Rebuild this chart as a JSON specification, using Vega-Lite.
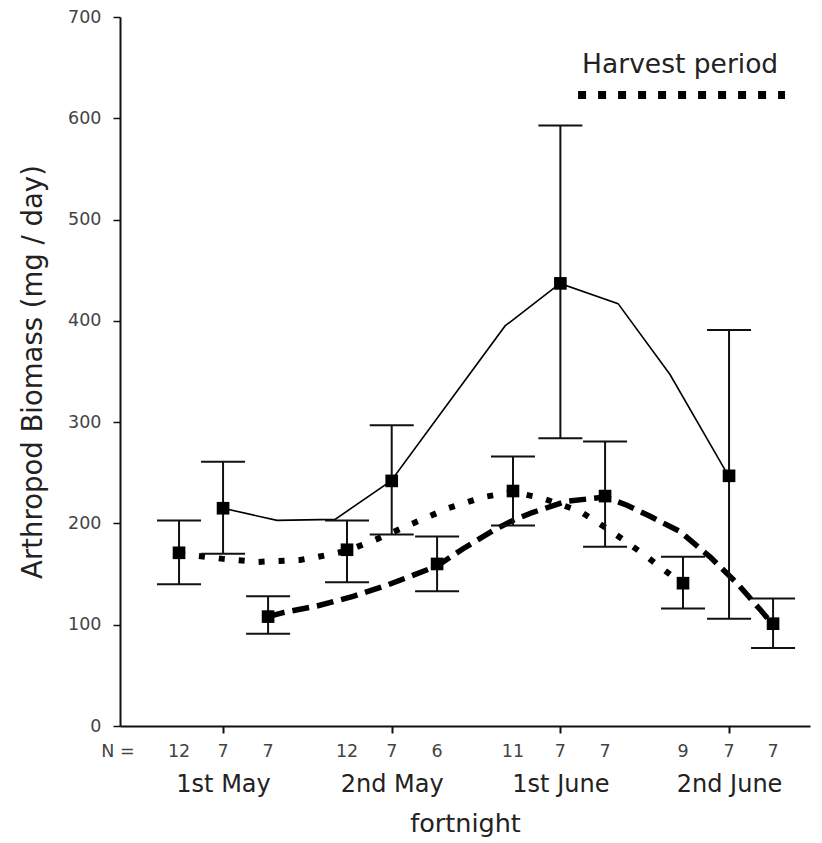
{
  "$schema": "https://vega.github.io/schema/vega-lite/v6.json",
  "width": 690,
  "height": 709,
  "autosize": {"type": "none"},
  "padding": {"left": 120, "top": 17, "right": 12, "bottom": 117},
  "background": "white",
  "config": {
    "view": {"stroke": null},
    "font": "DejaVu Sans",
    "axisY": {
      "grid": false, "tickCount": 7, "domainColor": "#111", "domainWidth": 2,
      "tickColor": "#111", "tickWidth": 1.5, "tickSize": 7,
      "labelFontSize": 17.5, "labelColor": "#444", "labelPadding": 12,
      "titleFontSize": 27.5, "titleFontWeight": "normal", "titleColor": "#222", "titlePadding": 20
    }
  },
  "datasets": {
    "points": [
      {"series": "dotted", "x": 0.739, "y": 171, "lo": 140, "hi": 203},
      {"series": "solid", "x": 1.0, "y": 215, "lo": 170, "hi": 261},
      {"series": "dashed", "x": 1.267, "y": 108, "lo": 91, "hi": 128},
      {"series": "dotted", "x": 1.735, "y": 174, "lo": 142, "hi": 203},
      {"series": "solid", "x": 2.0, "y": 242, "lo": 189, "hi": 297},
      {"series": "dashed", "x": 2.269, "y": 160, "lo": 133, "hi": 187},
      {"series": "dotted", "x": 2.719, "y": 232, "lo": 198, "hi": 266},
      {"series": "solid", "x": 3.0, "y": 437, "lo": 284, "hi": 593},
      {"series": "dashed", "x": 3.265, "y": 227, "lo": 177, "hi": 281},
      {"series": "dotted", "x": 3.727, "y": 141, "lo": 116, "hi": 167},
      {"series": "solid", "x": 4.0, "y": 247, "lo": 106, "hi": 391},
      {"series": "dashed", "x": 4.261, "y": 101, "lo": 77, "hi": 126}
    ],
    "curves": [
      {"series": "solid", "x": 1.0, "y": 215},
      {"series": "solid", "x": 1.32, "y": 203},
      {"series": "solid", "x": 1.664, "y": 204},
      {"series": "solid", "x": 1.996, "y": 242},
      {"series": "solid", "x": 2.672, "y": 395},
      {"series": "solid", "x": 2.998, "y": 437},
      {"series": "solid", "x": 3.342, "y": 417},
      {"series": "solid", "x": 3.65, "y": 347},
      {"series": "solid", "x": 4.0, "y": 246},
      {"series": "dotted", "x": 0.739, "y": 170},
      {"series": "dotted", "x": 1.0, "y": 165},
      {"series": "dotted", "x": 1.207, "y": 162},
      {"series": "dotted", "x": 1.457, "y": 164},
      {"series": "dotted", "x": 1.563, "y": 167},
      {"series": "dotted", "x": 1.735, "y": 173},
      {"series": "dotted", "x": 1.919, "y": 185},
      {"series": "dotted", "x": 2.097, "y": 198},
      {"series": "dotted", "x": 2.334, "y": 215},
      {"series": "dotted", "x": 2.541, "y": 226},
      {"series": "dotted", "x": 2.719, "y": 231},
      {"series": "dotted", "x": 2.891, "y": 225},
      {"series": "dotted", "x": 3.117, "y": 212},
      {"series": "dotted", "x": 3.312, "y": 191},
      {"series": "dotted", "x": 3.49, "y": 170},
      {"series": "dotted", "x": 3.591, "y": 157},
      {"series": "dotted", "x": 3.727, "y": 140},
      {"series": "dashed", "x": 1.267, "y": 108},
      {"series": "dashed", "x": 1.356, "y": 112},
      {"series": "dashed", "x": 1.557, "y": 118.5},
      {"series": "dashed", "x": 1.771, "y": 128},
      {"series": "dashed", "x": 1.972, "y": 139},
      {"series": "dashed", "x": 2.269, "y": 158},
      {"series": "dashed", "x": 2.423, "y": 175},
      {"series": "dashed", "x": 2.601, "y": 193},
      {"series": "dashed", "x": 2.719, "y": 203},
      {"series": "dashed", "x": 2.838, "y": 211},
      {"series": "dashed", "x": 3.04, "y": 222},
      {"series": "dashed", "x": 3.265, "y": 226},
      {"series": "dashed", "x": 3.395, "y": 218},
      {"series": "dashed", "x": 3.532, "y": 207},
      {"series": "dashed", "x": 3.709, "y": 192},
      {"series": "dashed", "x": 3.887, "y": 167},
      {"series": "dashed", "x": 4.047, "y": 141},
      {"series": "dashed", "x": 4.184, "y": 115},
      {"series": "dashed", "x": 4.261, "y": 100}
    ],
    "nlabels": [
      {"x": 0.377, "label": "N ="},
      {"x": 0.739, "label": "12"},
      {"x": 1.0, "label": "7"},
      {"x": 1.267, "label": "7"},
      {"x": 1.735, "label": "12"},
      {"x": 2.0, "label": "7"},
      {"x": 2.269, "label": "6"},
      {"x": 2.719, "label": "11"},
      {"x": 3.0, "label": "7"},
      {"x": 3.265, "label": "7"},
      {"x": 3.727, "label": "9"},
      {"x": 4.0, "label": "7"},
      {"x": 4.261, "label": "7"}
    ],
    "harvest": [
      {"x": 3.105, "y": 623},
      {"x": 4.332, "y": 623}
    ],
    "harvestLabel": [
      {"x": 3.71, "y": 653, "label": "Harvest period"}
    ]
  },
  "encoding": {
    "x": {
      "field": "x", "type": "quantitative",
      "scale": {"domain": [0.389, 4.48], "nice": false, "zero": false},
      "axis": {
        "values": [1, 2, 3, 4],
        "labelExpr": "['', '1st May', '2nd May', '1st June', '2nd June'][datum.value]",
        "title": "fortnight", "grid": false,
        "domainColor": "#111", "domainWidth": 2, "tickColor": "#111", "tickWidth": 2, "tickSize": 7,
        "labelFontSize": 24, "labelColor": "#222", "labelPadding": 39,
        "titleFontSize": 25.5, "titleFontWeight": "normal", "titleColor": "#222", "titlePadding": 15
      }
    }
  },
  "layer": [
    {
      "data": {"values": [{"top": 700}]},
      "mark": {"type": "rule", "color": "#111", "strokeWidth": 2},
      "encoding": {
        "x": {"datum": 0.389},
        "x2": {"datum": 4.48},
        "y": {"field": "top", "type": "quantitative", "title": "Arthropod Biomass (mg / day)", "scale": {"domain": [0, 700]}}
      }
    },
    {
      "data": {"name": "curves"},
      "transform": [{"filter": "datum.series === 'solid'"}],
      "mark": {"type": "line", "color": "#000", "strokeWidth": 1.6},
      "encoding": {
        "y": {"field": "y", "type": "quantitative", "title": "Arthropod Biomass (mg / day)", "scale": {"domain": [0, 700]}}
      }
    },
    {
      "data": {"name": "curves"},
      "transform": [{"filter": "datum.series === 'dotted'"}],
      "mark": {"type": "line", "color": "#000", "strokeWidth": 6, "strokeDash": [6, 14], "strokeCap": "butt"},
      "encoding": {
        "y": {"field": "y", "type": "quantitative", "title": "Arthropod Biomass (mg / day)", "scale": {"domain": [0, 700]}}
      }
    },
    {
      "data": {"name": "curves"},
      "transform": [{"filter": "datum.series === 'dashed'"}],
      "mark": {"type": "line", "color": "#000", "strokeWidth": 5.5, "strokeDash": [17, 8], "strokeCap": "butt"},
      "encoding": {
        "y": {"field": "y", "type": "quantitative", "title": "Arthropod Biomass (mg / day)", "scale": {"domain": [0, 700]}}
      }
    },
    {
      "data": {"name": "points"},
      "mark": {"type": "rule", "color": "#111", "strokeWidth": 2},
      "encoding": {
        "y": {"field": "lo", "type": "quantitative", "title": "Arthropod Biomass (mg / day)", "scale": {"domain": [0, 700]}},
        "y2": {"field": "hi"}
      }
    },
    {
      "data": {"name": "points"},
      "mark": {"type": "tick", "orient": "horizontal", "color": "#111", "opacity": 1, "size": 44, "thickness": 2},
      "encoding": {
        "y": {"field": "hi", "type": "quantitative", "title": "Arthropod Biomass (mg / day)", "scale": {"domain": [0, 700]}}
      }
    },
    {
      "data": {"name": "points"},
      "mark": {"type": "tick", "orient": "horizontal", "color": "#111", "opacity": 1, "size": 44, "thickness": 2},
      "encoding": {
        "y": {"field": "lo", "type": "quantitative", "title": "Arthropod Biomass (mg / day)", "scale": {"domain": [0, 700]}}
      }
    },
    {
      "data": {"name": "points"},
      "mark": {"type": "square", "color": "#000", "filled": true, "size": 160, "opacity": 1},
      "encoding": {
        "y": {"field": "y", "type": "quantitative", "title": "Arthropod Biomass (mg / day)", "scale": {"domain": [0, 700]}}
      }
    },
    {
      "data": {"name": "harvest"},
      "mark": {"type": "line", "color": "#000", "strokeWidth": 8, "strokeDash": [8, 12], "strokeCap": "butt"},
      "encoding": {
        "y": {"field": "y", "type": "quantitative", "title": "Arthropod Biomass (mg / day)", "scale": {"domain": [0, 700]}}
      }
    },
    {
      "data": {"name": "harvestLabel"},
      "mark": {"type": "text", "fontSize": 26.5, "color": "#222", "font": "DejaVu Sans"},
      "encoding": {
        "y": {"field": "y", "type": "quantitative", "title": "Arthropod Biomass (mg / day)", "scale": {"domain": [0, 700]}},
        "text": {"field": "label"}
      }
    },
    {
      "data": {"name": "nlabels"},
      "mark": {"type": "text", "fontSize": 17.5, "color": "#444", "font": "DejaVu Sans", "baseline": "middle"},
      "encoding": {
        "y": {"datum": -26},
        "text": {"field": "label"}
      }
    }
  ]
}
